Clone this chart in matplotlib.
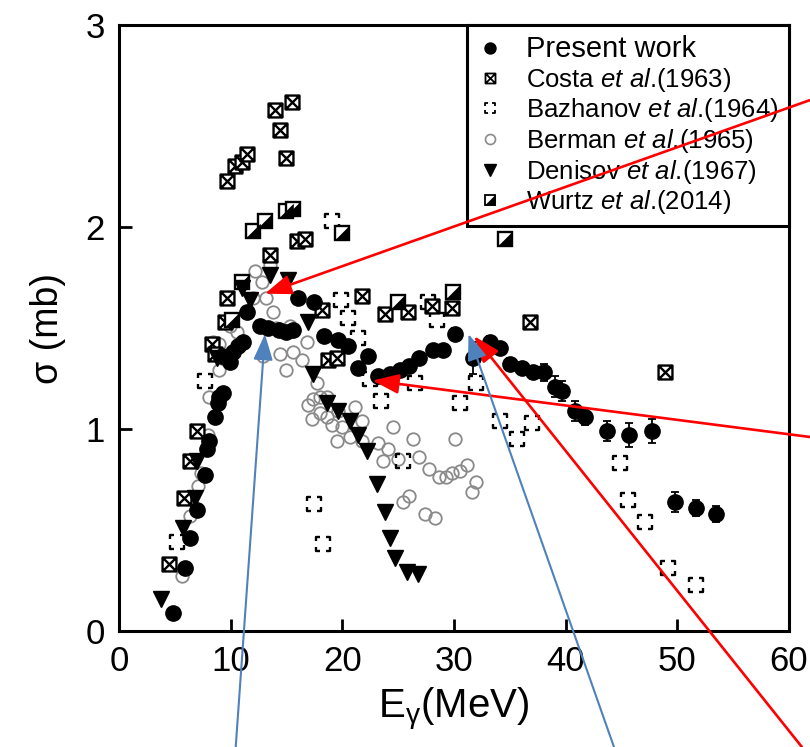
import numpy as np
import matplotlib
matplotlib.use("Agg")
import matplotlib.pyplot as plt
from matplotlib.path import Path
from matplotlib.lines import Line2D

plt.rcParams['font.family'] = ['Liberation Sans', 'DejaVu Sans']
plt.rcParams['mathtext.fontset'] = 'custom'
plt.rcParams['mathtext.rm'] = 'Liberation Sans'
plt.rcParams['mathtext.it'] = 'Liberation Sans:italic'

# ---- data: photon energy (MeV) and cross section (mb) ----
present_E = [4.8, 5.9, 6.4, 7.0, 7.7, 7.9, 8.1, 8.6, 8.9, 9.0, 9.3, 9.2, 9.9, 10.2, 10.7,
             11.1, 11.5, 12.6, 13.3, 14.3, 15.0, 15.6, 16.0, 17.5, 18.4, 19.6, 20.5, 21.4,
             22.3, 23.2, 24.3, 25.2, 26.0, 26.9, 28.1, 29.0, 30.1, 31.7, 33.2, 34.1, 35.0,
             36.1, 37.1, 38.1, 39.0, 39.7, 40.8, 41.7, 43.7, 45.7, 47.7, 49.8, 51.7, 53.5]
present_s = [0.09, 0.31, 0.46, 0.60, 0.77, 0.90, 0.94, 1.06, 1.13, 1.16, 1.18, 1.36, 1.33, 1.38, 1.41,
             1.43, 1.58, 1.51, 1.50, 1.49, 1.48, 1.49, 1.65, 1.63, 1.46, 1.44, 1.41, 1.30,
             1.36, 1.26, 1.27, 1.29, 1.31, 1.35, 1.39, 1.39, 1.47, 1.35, 1.43, 1.40, 1.32,
             1.30, 1.28, 1.28, 1.21, 1.19, 1.09, 1.06, 0.99, 0.97, 0.99, 0.64, 0.61, 0.58]
present_err = [0.02] * 36 + [0.03, 0.08, 0.03, 0.03, 0.03, 0.03, 0.03, 0.04, 0.05, 0.05,
                             0.05, 0.04, 0.05, 0.06, 0.06, 0.05, 0.04, 0.04]

costa_E = [4.5, 5.8, 6.4, 7.0, 8.3, 8.6, 9.5, 9.7, 9.7, 10.4, 11.0, 11.5, 14.0, 15.5, 14.4,
           15.0, 13.5, 15.9, 16.7, 18.2, 18.7, 19.5, 21.8, 23.8, 25.9, 28.0, 29.8, 36.8, 48.9]
costa_s = [0.33, 0.66, 0.84, 0.99, 1.42, 1.37, 1.53, 1.65, 2.23, 2.30, 2.32, 2.36, 2.58, 2.62, 2.48,
           2.34, 1.86, 1.93, 1.94, 1.59, 1.34, 1.35, 1.66, 1.57, 1.58, 1.61, 1.60, 1.53, 1.28]

bazh_E = [5.2, 7.7, 17.5, 18.3, 19.1, 19.9, 20.5, 21.4, 22.5, 23.5, 25.4, 26.5, 27.7, 28.5,
          30.5, 32.0, 34.1, 35.6, 37.0, 44.9, 45.6, 47.1, 49.2, 51.7]
bazh_s = [0.44, 1.24, 0.63, 0.43, 2.03, 1.64, 1.55, 1.45, 1.25, 1.14, 0.84, 1.23, 1.63, 1.54,
          1.13, 1.23, 1.04, 0.95, 1.03, 0.83, 0.65, 0.54, 0.31, 0.23]

berman_E = [5.6, 6.4, 7.1, 7.3, 8.0, 8.1, 9.0, 9.0, 8.4, 9.9, 10.6, 12.0, 12.2, 12.8, 13.5,
            13.2, 13.8, 12.9, 14.1, 14.4, 15.0, 15.3, 15.6, 16.4, 16.8, 16.9, 17.4, 17.7,
            18.0, 18.6, 17.3, 18.0, 18.6, 19.1, 19.6, 20.0, 21.1, 19.5, 20.7, 21.8, 21.8,
            23.2, 24.1, 23.6, 24.5, 25.0, 26.3, 26.9, 27.8, 28.7, 29.3, 29.8, 30.5, 31.2,
            30.1, 32.0, 31.6, 25.4, 26.0, 27.4, 28.3]
berman_s = [0.27, 0.57, 0.72, 0.78, 0.97, 1.16, 1.29, 1.42, 1.43, 1.51, 1.48, 1.65, 1.78, 1.73, 1.81,
            1.65, 1.58, 1.36, 1.50, 1.37, 1.29, 1.51, 1.38, 1.34, 1.43, 1.12, 1.15, 1.23,
            1.16, 1.16, 1.05, 1.08, 1.06, 1.02, 1.09, 1.01, 1.11, 0.94, 0.96, 1.04, 0.94,
            0.93, 0.90, 0.84, 1.01, 0.85, 0.95, 0.86, 0.80, 0.76, 0.76, 0.78, 0.79, 0.82,
            0.95, 0.74, 0.69, 0.64, 0.67, 0.58, 0.56]

denisov_E = [3.8, 5.7, 6.8, 7.0, 8.8, 11.0, 11.7, 13.5, 15.1, 16.9, 17.4, 18.6, 19.6, 20.7,
             21.4, 22.2, 23.1, 23.8, 24.3, 24.7, 25.8, 26.8]
denisov_s = [0.16, 0.51, 0.66, 0.84, 1.35, 1.70, 1.64, 1.76, 1.74, 1.53, 1.27, 1.13, 1.09, 1.04,
             0.97, 0.89, 0.73, 0.59, 0.46, 0.36, 0.29, 0.28]

wurtz_E = [10.1, 11.0, 12.0, 13.1, 15.0, 15.6, 20.0, 25.0, 29.9, 34.6]
wurtz_s = [1.54, 1.73, 1.98, 2.03, 2.08, 2.09, 1.97, 1.63, 1.68, 1.94]

x_ticks = [0, 10, 20, 30, 40, 50, 60]
y_ticks = [0, 1, 2, 3]

# ---- custom marker shapes ----
boxed_x = Path([(-1, -1), (1, -1), (1, 1), (-1, 1), (-1, -1),
                (-1, -1), (1, 1), (-1, 1), (1, -1)],
               [Path.MOVETO, Path.LINETO, Path.LINETO, Path.LINETO, Path.CLOSEPOLY,
                Path.MOVETO, Path.LINETO, Path.MOVETO, Path.LINETO])
c = 0.45
corner_verts, corner_codes = [], []
for sx, sy in [(-1, -1), (1, -1), (1, 1), (-1, 1)]:
    corner_verts += [(sx, sy * c), (sx, sy), (sx * c, sy)]
    corner_codes += [Path.MOVETO, Path.LINETO, Path.LINETO]
corner_sq = Path(corner_verts, corner_codes)
half_tri = Path([(-1, -1), (1, -1), (1, 1), (-1, -1)],
                [Path.MOVETO, Path.LINETO, Path.LINETO, Path.CLOSEPOLY])

fig = plt.figure(figsize=(8.1, 7.47), dpi=100)
ax = fig.add_axes([0.1469, 0.1553, 0.8272, 0.8112])

ms = 11
ax.plot(berman_E, berman_s, ls='none', marker='o', ms=9, mfc='none',
        mec='#8a8a8a', mew=1.3, zorder=2)
ax.plot(bazh_E, bazh_s, ls='none', marker=corner_sq, ms=10, mfc='none',
        mec='black', mew=1.7, zorder=3)
ax.plot(costa_E, costa_s, ls='none', marker=boxed_x, ms=10, mfc='white',
        mec='black', mew=1.7, zorder=3)
ax.plot(wurtz_E, wurtz_s, ls='none', marker='s', ms=10, mfc='white',
        mec='black', mew=1.7, zorder=3)
ax.plot(wurtz_E, wurtz_s, ls='none', marker=half_tri, ms=10, mfc='black',
        mec='black', mew=0.5, zorder=3)
ax.plot(denisov_E, denisov_s, ls='none', marker='v', ms=11.5, mfc='black',
        mec='black', zorder=4)
ax.errorbar(present_E, present_s, yerr=present_err, fmt='o', ms=ms, mfc='black',
            mec='black', ecolor='black', elinewidth=1.3, capsize=3, capthick=1.3, zorder=5)

ax.set_xlim(0, 60)
ax.set_ylim(0, 3)
ax.set_xticks(x_ticks)
ax.set_yticks(y_ticks)
ax.tick_params(direction='in', length=9, width=2, labelsize=25, pad=10)
for s in ax.spines.values():
    s.set_linewidth(2.2)
ax.set_xlabel('E$_{\\mathrm{\\gamma}}$(MeV)', fontsize=29, labelpad=6)
ax.set_ylabel('σ (mb)', fontsize=27, labelpad=14)

# legend
h_present = Line2D([], [], ls='none', marker='o', ms=ms, mfc='black', mec='black')
h_costa = Line2D([], [], ls='none', marker=boxed_x, ms=10, mfc='white', mec='black', mew=1.3)
h_bazh = Line2D([], [], ls='none', marker=corner_sq, ms=10, mfc='none', mec='black', mew=1.3)
h_berman = Line2D([], [], ls='none', marker='o', ms=10, mfc='none', mec='#8a8a8a', mew=1.2)
h_denisov = Line2D([], [], ls='none', marker='v', ms=11.5, mfc='black', mec='black')
h_w1 = Line2D([], [], ls='none', marker='s', ms=10, mfc='white', mec='black', mew=1.3)
h_w2 = Line2D([], [], ls='none', marker=half_tri, ms=10, mfc='black', mec='black', mew=0.5)
labels = ['Present work',
          'Costa $\\mathit{et\\ al}$.(1963)',
          'Bazhanov $\\mathit{et\\ al}$.(1964)',
          'Berman $\\mathit{et\\ al}$.(1965)',
          'Denisov $\\mathit{et\\ al}$.(1967)',
          'Wurtz $\\mathit{et\\ al}$.(2014)']
leg = ax.legend([h_present, h_costa, h_bazh, h_berman, h_denisov, (h_w1, h_w2)], labels,
                loc='upper right', bbox_to_anchor=(1, 1), borderaxespad=0, fontsize=18.5,
                markerscale=0.72, handlelength=1.0, handletextpad=0.9, labelspacing=0.1,
                borderpad=0.4, fancybox=False, framealpha=1, edgecolor='black')
leg.get_frame().set_linewidth(2.2)
leg.get_texts()[0].set_fontsize(21)
leg.set_zorder(6)

# pointer arrows
def pointer(xy, tail, color, lw):
    ax.annotate('', xy=xy, xycoords='data', xytext=tail, textcoords='figure fraction',
                arrowprops=dict(arrowstyle='-|>,head_length=0.8,head_width=0.3', color=color,
                                lw=lw, shrinkA=0, shrinkB=0, mutation_scale=20),
                annotation_clip=False, zorder=7)

pointer((13.07, 1.67), (1.0, 0.866), 'red', 1.9)
pointer((22.7, 1.24), (1.0, 0.415), 'red', 1.9)
pointer((31.8, 1.46), (0.990, 0.0), 'red', 1.9)
pointer((13.07, 1.47), (0.291, 0.0), '#4f81bd', 1.5)
pointer((31.3, 1.47), (0.758, 0.0), '#4f81bd', 1.5)

fig.savefig('out.png', dpi=100)
